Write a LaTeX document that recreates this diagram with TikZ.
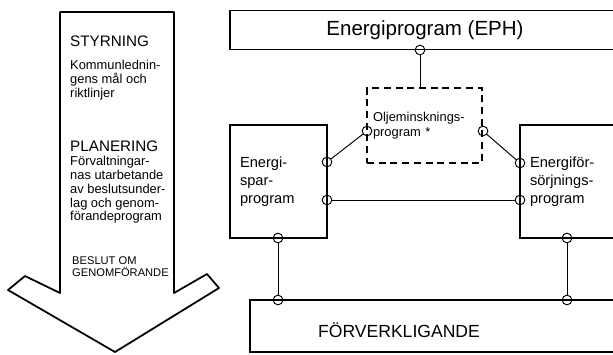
\documentclass[tikz,border=0pt]{standalone}
\usepackage{fontspec}
\setmainfont{Liberation Sans}
\usetikzlibrary{positioning, calc}
\tikzset{
    % Shapes
    box/.style={rectangle, draw, line width=1.5pt, align=left, inner sep=0pt},
    dashbox/.style={box, dash pattern=on 6pt off 4pt},
    port/.style={circle, draw, line width=0.8pt, inner sep=0pt, minimum size=0.29cm},
    % Flow & Labels
    link/.style={line width=0.8pt},
    head/.style={font=\fontsize{13}{15}\selectfont, inner sep=0pt, anchor=north west},
    body/.style={font=\fontsize{11}{11.8}\selectfont, align=left, inner sep=0pt, anchor=north west}
}

\begin{document}
\begin{tikzpicture}[x=0.03cm, y=-0.03cm]

\useasboundingbox (0,0) rectangle (613,354);
\clip (0,0) rectangle (613,354);

% big arrow on the left
\draw[line width=1.5pt, line join=round] (60,12) -- (174,12) -- (174,293) -- (207,274) -- (219,288)
    -- (115,352) -- (8,290) -- (25,276) -- (60,293) -- cycle;
\node[head] (styrH) at (70,36) {STYRNING};
\node[body] (styrB) at (70,60) {Kommunlednin-\\gens mål och\\riktlinjer};
\node[head] (planH) at (70,141) {PLANERING};
\node[body] (planB) at (70,156) {Förvaltningar-\\nas utarbetande\\av beslutsunder-\\lag och genom-\\förandeprogram};
\node[body, font=\fontsize{9.5}{11}\selectfont] (beslut) at (72,256) {BESLUT OM\\GENOMFÖRANDE};

% boxes
\node[box, minimum width=11.7cm, minimum height=1.17cm, font=\fontsize{17.5}{19}\selectfont] (eph) at (425,30) {Energiprogram (EPH)};
\node[dashbox, minimum width=3.45cm, minimum height=2.25cm, text width=3.09cm,
      font=\fontsize{11}{13}\selectfont] (olje) at (424.5,125.5) {Oljeminsknings-\\program *};
\node[box, minimum width=2.91cm, minimum height=3.39cm, text width=2.31cm,
      font=\fontsize{12.5}{15.5}\selectfont] (spar) at (278.5,181.5) {Energi-\\spar-\\program};
\node[box, minimum width=3.0cm, minimum height=3.39cm, text width=2.4cm,
      font=\fontsize{12.5}{15.5}\selectfont] (forsorj) at (570,181.5) {Energiför-\\sörjnings-\\program};
\node[box, minimum width=11.1cm, minimum height=1.56cm] (forv) at (435,326) {};
\node[font=\fontsize{15}{17}\selectfont] (forvtxt) at (399,330) {FÖRVERKLIGANDE};

% ports
\node[port] (pe) at (420,50) {};
\node[port] (po1) at (367,131) {};
\node[port] (po2) at (483,131) {};
\node[port] (ps1) at (327,162) {};
\node[port] (ps2) at (327,200) {};
\node[port] (ps3) at (278,238) {};
\node[port] (pf1) at (520,163) {};
\node[port] (pf2) at (520,200) {};
\node[port] (pf3) at (567,238) {};
\node[port] (pv1) at (278,300) {};
\node[port] (pv2) at (567,300) {};

% links
\draw[link] (pe) -- (pe |- olje.north);
\draw[link] (po1) -- (ps1);
\draw[link] (po2) -- (pf1);
\draw[link] (ps2) -- (pf2);
\draw[link] (ps3) -- (pv1);
\draw[link] (pf3) -- (pv2);

\end{tikzpicture}
\end{document}
